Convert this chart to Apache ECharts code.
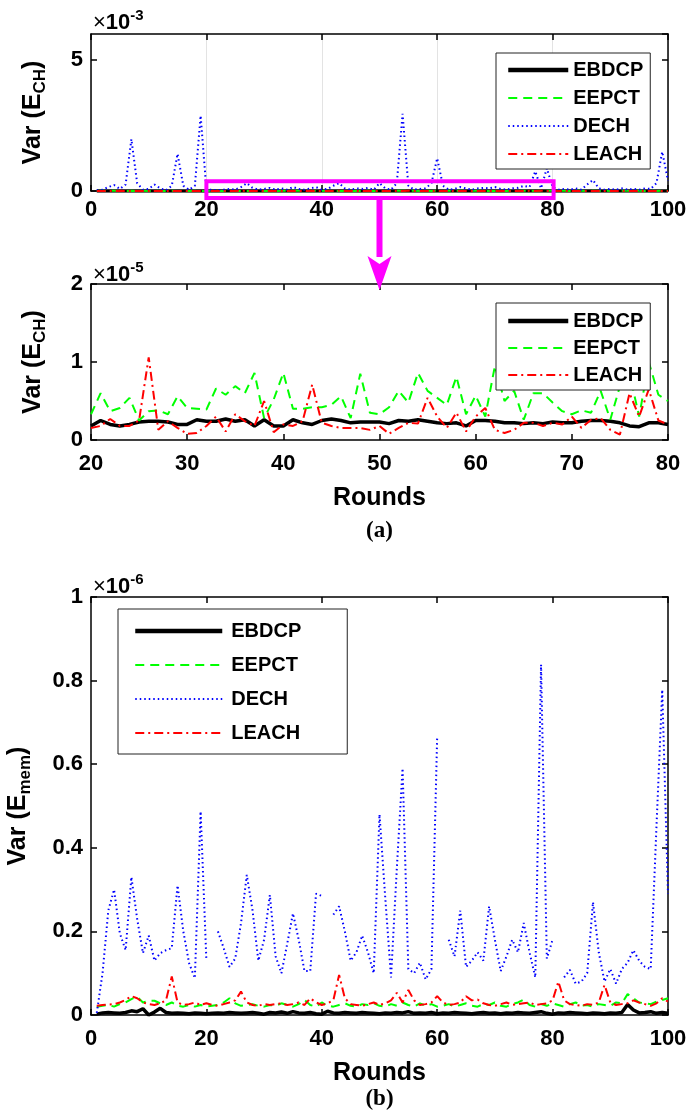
<!DOCTYPE html>
<html><head><meta charset="utf-8">
<script src="https://cdn.jsdelivr.net/npm/echarts@6/dist/echarts.min.js"></script>
<style>html,body{margin:0;padding:0;background:#fff}#c{width:688px;height:1114px}</style>
</head><body><div id="c"></div>
<script>
// ---------------- DATA ----------------
const rounds = [1,2,3,4,5,6,7,8,9,10,11,12,13,14,15,16,17,18,19,20,
21,22,23,24,25,26,27,28,29,30,31,32,33,34,35,36,37,38,39,40,
41,42,43,44,45,46,47,48,49,50,51,52,53,54,55,56,57,58,59,60,
61,62,63,64,65,66,67,68,69,70,71,72,73,74,75,76,77,78,79,80,
81,82,83,84,85,86,87,88,89,90,91,92,93,94,95,96,97,98,99,100];

// Var(E_CH), units of 1e-5
const ebdcpCH = [0.2,0.22,0.2,0.24,0.21,0.2,0.23,0.25,0.2,0.19,0.22,0.24,0.21,0.2,0.23,0.22,0.2,0.21,0.24,
0.18,0.25,0.2,0.18,0.2,0.23,0.24,0.24,0.23,0.2,0.2,0.26,0.24,0.24,0.27,0.24,0.26,0.18,0.26,0.18,0.18,0.26,0.22,0.2,0.25,0.27,0.25,0.22,0.23,0.23,0.23,
0.21,0.25,0.24,0.26,0.24,0.22,0.21,0.22,0.18,0.25,0.25,0.24,0.22,0.22,0.21,0.22,0.21,0.23,0.22,0.22,0.24,0.25,0.25,0.24,0.22,0.18,0.17,0.22,0.22,0.2,
0.21,0.23,0.2,0.22,0.24,0.21,0.2,0.23,0.22,0.2,0.21,0.24,0.23,0.2,0.22,0.21,0.23,0.2,0.22,0.21];
const eepctCH = [0.4,0.55,0.3,0.62,0.45,0.35,0.7,0.4,0.5,0.3,0.6,0.45,0.38,0.8,0.35,0.5,0.42,0.65,0.3,
0.33,0.6,0.37,0.41,0.54,0.25,0.37,0.38,0.33,0.56,0.41,0.40,0.39,0.66,0.58,0.69,0.6,0.86,0.28,0.52,0.86,0.40,0.40,0.42,0.42,0.45,0.56,0.28,0.85,0.35,0.33,
0.42,0.63,0.48,0.86,0.63,0.54,0.45,0.81,0.33,0.57,0.30,0.95,0.5,0.63,0.26,0.6,0.6,0.48,0.37,0.33,0.38,0.35,0.63,0.26,0.69,0.85,0.3,1.0,0.58,0.5,
0.45,0.6,0.35,0.5,0.7,0.4,0.55,0.3,0.62,0.45,0.38,0.75,0.5,0.35,0.6,0.42,0.55,0.3,0.65,0.45];
const leachCH = [0.2,0.35,0.15,0.25,0.5,0.18,0.22,0.3,0.12,0.2,0.45,0.15,0.25,0.2,0.35,0.12,0.22,0.28,0.15,
0.155,0.18,0.27,0.18,0.18,0.25,1.06,0.13,0.24,0.155,0.08,0.09,0.18,0.30,0.11,0.33,0.24,0.18,0.5,0.10,0.2,0.18,0.24,0.71,0.22,0.18,0.155,0.155,0.155,0.13,0.18,
0.08,0.155,0.22,0.21,0.54,0.3,0.155,0.35,0.11,0.3,0.41,0.13,0.09,0.13,0.22,0.22,0.18,0.22,0.2,0.3,0.155,0.26,0.28,0.13,0.07,0.6,0.3,0.65,0.25,0.2,
0.25,0.15,0.3,0.2,0.18,0.4,0.15,0.22,0.3,0.12,0.2,0.25,0.18,0.35,0.15,0.22,0.2,0.3,0.18,0.25];
// Var(E_CH) of DECH, units of 1e-3
const dechCH = [0.02,0.05,0.15,0.23,0.08,0.25,1.98,0.3,0.05,0.08,
0.25,0.1,0.03,0.2,1.42,0.2,0.05,0.2,2.88,0.05,
0.05,0.03,0.05,0.08,0.05,0.15,0.3,0.12,0.05,0.08,
0.12,0.05,0.1,0.05,0.15,0.08,0.05,0.1,0.15,0.05,
0.08,0.2,0.3,0.1,0.05,0.1,0.08,0.12,0.05,0.3,
0.1,0.05,0.3,2.95,0.2,0.05,0.08,0.1,0.3,1.25,
0.2,0.05,0.08,0.15,0.1,0.05,0.1,0.12,0.1,0.15,
0.08,0.05,0.1,0.12,0.2,0.15,0.75,0.1,0.87,0.15,
0.05,0.08,0.05,0.1,0.05,0.25,0.42,0.1,0.05,0.08,
0.05,0.1,0.05,0.08,0.05,0.1,0.08,0.3,1.5,0.4];

// Var(E_mem), units of 1e-6
const ebdcpMem = [0.002,0.005,0.006,0.005,0.004,0.006,0.01,0.008,0.015,0.0,0.007,0.016,0.006,0.004,0.005,0.004,0.003,0.005,0.004,0.003,
0.004,0.005,0.004,0.006,0.005,0.004,0.005,0.006,0.004,0.002,0.006,0.005,0.007,0.004,0.008,0.005,0.004,0.006,0.003,0.002,
0.009,0.005,0.004,0.006,0.005,0.004,0.006,0.005,0.004,0.003,0.005,0.004,0.006,0.005,0.008,0.004,0.005,0.004,0.006,0.003,
0.005,0.004,0.006,0.005,0.004,0.003,0.005,0.006,0.004,0.005,0.003,0.005,0.004,0.006,0.005,0.004,0.006,0.008,0.004,0.002,
0.005,0.004,0.006,0.005,0.004,0.003,0.005,0.004,0.003,0.005,0.004,0.006,0.025,0.012,0.005,0.006,0.008,0.004,0.006,0.004];
const eepctMem = [0.02,0.022,0.024,0.02,0.026,0.03,0.038,0.044,0.03,0.034,0.034,0.028,0.024,0.03,0.022,0.02,0.024,0.02,0.024,0.02,
0.022,0.024,0.03,0.04,0.028,0.022,0.024,0.026,0.022,0.02,0.024,0.022,0.028,0.024,0.02,0.026,0.036,0.024,0.02,0.03,
0.022,0.02,0.024,0.028,0.022,0.02,0.026,0.024,0.028,0.022,0.02,0.026,0.022,0.03,0.024,0.02,0.028,0.022,0.026,0.02,
0.022,0.026,0.02,0.024,0.028,0.022,0.02,0.026,0.024,0.03,0.022,0.02,0.026,0.03,0.037,0.024,0.02,0.026,0.022,0.028,
0.024,0.02,0.026,0.03,0.022,0.024,0.02,0.026,0.024,0.022,0.03,0.028,0.05,0.04,0.03,0.028,0.026,0.032,0.036,0.04];
const dechMem = [0.005,0.10,0.25,0.30,0.195,0.155,0.33,0.23,0.148,0.19,0.13,0.148,0.155,0.16,0.31,0.2,0.124,0.088,0.487,0.13,
null,0.2,0.16,0.115,0.135,0.22,0.335,0.25,0.13,0.18,0.287,0.14,0.10,0.17,0.243,0.18,0.105,0.105,0.29,0.285,
null,0.24,0.26,0.2,0.13,0.15,0.19,0.15,0.1,0.48,0.28,0.09,0.35,0.59,0.11,0.10,0.125,0.085,0.11,0.668,
null,0.18,0.14,0.25,0.115,0.13,0.15,0.13,0.26,0.18,0.105,0.14,0.18,0.15,0.22,0.15,0.09,0.838,0.135,0.18,
null,0.09,0.108,0.075,0.08,0.1,0.27,0.15,0.08,0.11,0.075,0.11,0.125,0.155,0.13,0.115,0.11,0.45,0.778,0.29];
const leachMem = [0.022,0.024,0.025,0.026,0.03,0.036,0.045,0.04,0.03,0.026,0.024,0.028,0.035,0.092,0.03,0.024,0.026,0.03,0.024,0.028,
0.024,0.022,0.026,0.03,0.035,0.056,0.03,0.024,0.022,0.026,0.024,0.026,0.028,0.024,0.026,0.03,0.024,0.04,0.03,0.024,
0.028,0.035,0.096,0.04,0.026,0.024,0.022,0.026,0.03,0.024,0.028,0.035,0.053,0.03,0.06,0.035,0.024,0.026,0.03,0.045,
0.03,0.024,0.026,0.03,0.045,0.035,0.037,0.028,0.024,0.022,0.026,0.03,0.024,0.026,0.028,0.03,0.024,0.026,0.028,0.035,
0.08,0.035,0.026,0.024,0.022,0.026,0.024,0.03,0.072,0.03,0.024,0.026,0.028,0.035,0.03,0.026,0.022,0.028,0.04,0.032];

const names = ['EBDCP','EEPCT','DECH','LEACH'];
const namesZoom = ['EBDCP','EEPCT','LEACH'];

// ---------------- STYLE ----------------
const FF = '"Liberation Sans", Arial, Helvetica, sans-serif';
const LS = {
  EBDCP: {color:'#000000', width:3.5, type:'solid'},
  EEPCT: {color:'#00ff00', width:2, type:[9,6]},
  DECH:  {color:'#0000ff', width:2, type:[1.5,3]},
  LEACH: {color:'#ff0000', width:2, type:[9,4,2,4]}
};

function pairs(vals, scale, lo, hi) {
  const out = [];
  for (let i = 0; i < rounds.length; i++) {
    const r = rounds[i];
    if (r < lo || r > hi) continue;
    const v = vals[i];
    out.push([r, v === null ? null : v * scale]);
  }
  return out;
}
function ser(name, axis, data) {
  return {
    name, type:'line', xAxisIndex:axis, yAxisIndex:axis, data,
    showSymbol:false, symbol:'none', silent:true, animation:false,
    lineStyle:{color:LS[name].color, width:LS[name].width, type:LS[name].type, cap:'butt'},
    itemStyle:{color:LS[name].color}
  };
}

const tickLbl = {color:'#000', fontSize:22, fontWeight:'bold', fontFamily:FF};
const nameRich = () => ({
  m:{fontSize:25, fontWeight:'bold', fontFamily:FF, color:'#000', lineHeight:32, verticalAlign:'middle'},
  s:{fontSize:17, fontWeight:'bold', fontFamily:FF, color:'#000', lineHeight:20, verticalAlign:'bottom'}
});
function xPair(g, min, max, interval, margin, name, split) {
  const base = {type:'value', gridIndex:g, min, max, interval,
    axisLine:{show:true, onZero:false, lineStyle:{color:'#000', width:1.5}},
    axisTick:{show:true, inside:true, length:6, lineStyle:{color:'#000', width:1.5}}};
  return [
    Object.assign({}, base, {position:'bottom',
      axisLabel:Object.assign({margin}, tickLbl),
      splitLine:{show:!!split, lineStyle:{color:'#e3e3e3', width:1}},
      name: name || '', nameLocation:'middle', nameGap:46,
      nameTextStyle:{fontSize:25, fontWeight:'bold', fontFamily:FF, color:'#000'}}),
    Object.assign({}, base, {position:'top', axisLabel:{show:false}, splitLine:{show:false}})
  ];
}
function yPair(g, min, max, interval, nameSub, gap, fmt) {
  const base = {type:'value', gridIndex:g, min, max, interval,
    axisLine:{show:true, onZero:false, lineStyle:{color:'#000', width:1.5}},
    axisTick:{show:true, inside:true, length:6, lineStyle:{color:'#000', width:1.5}},
    splitLine:{show:false}};
  return [
    Object.assign({}, base, {position:'left',
      axisLabel:Object.assign({margin:8, showMaxLabel: g===0 ? false : true, formatter:fmt}, tickLbl),
      name:'{m|Var (E}{s|' + nameSub + '}{m|)}', nameLocation:'middle', nameGap:gap,
      nameTextStyle:{rich:nameRich()}}),
    Object.assign({}, base, {position:'right', axisLabel:{show:false}})
  ];
}

const legendBase = {orient:'vertical', selectedMode:false, borderColor:'#222', borderWidth:1,
  backgroundColor:'#fff', itemHeight:14, itemStyle:{opacity:0},
  textStyle:{fontSize:20, fontWeight:'bold', fontFamily:FF, color:'#000', lineHeight:20}};
const legendItems = list => list.map(n => n === 'EBDCP' ? {name:n, lineStyle:{width:4.5}} : {name:n});

const series = [];
names.forEach(n => series.push(ser(n, 0, pairs(n==='DECH'?dechCH:(n==='EBDCP'?ebdcpCH:n==='EEPCT'?eepctCH:leachCH), n==='DECH'?1:0.01, 1, 100))));
namesZoom.forEach(n => series.push(ser(n, 2, pairs(n==='EBDCP'?ebdcpCH:n==='EEPCT'?eepctCH:leachCH, 1, 20, 80))));
names.forEach(n => series.push(ser(n, 4, pairs(n==='EBDCP'?ebdcpMem:n==='EEPCT'?eepctMem:n==='DECH'?dechMem:leachMem, 1, 1, 100))));

const fmt1 = v => String(Math.round(v*10)/10);

const option = {
  animation:false,
  backgroundColor:'#fff',
  grid:[
    {left:91, top:34, width:577, height:157, outerBoundsMode:'none', containLabel:false},
    {left:91, top:284, width:577, height:156, outerBoundsMode:'none', containLabel:false},
    {left:91, top:597, width:577, height:418, outerBoundsMode:'none', containLabel:false}
  ],
  xAxis:[].concat(
    xPair(0, 0, 100, 20, 8, '', true),
    xPair(1, 20, 80, 10, 13, 'Rounds', false),
    xPair(2, 0, 100, 20, 13, 'Rounds', false)
  ),
  yAxis:[].concat(
    yPair(0, 0, 6, 5, 'CH', 42, fmt1),
    yPair(1, 0, 2, 1, 'CH', 42, fmt1),
    yPair(2, 0, 1, 0.2, 'mem', 57, fmt1)
  ),
  legend:[
    Object.assign({}, legendBase, {data:legendItems(names), left:496, top:53, itemWidth:60, itemGap:8, padding:[7,7,5,10]}),
    Object.assign({}, legendBase, {data:legendItems(namesZoom), left:496, top:303, itemWidth:60, itemGap:7, padding:[8,7,5,10]}),
    Object.assign({}, legendBase, {data:legendItems(names), left:118, top:609, itemWidth:87, itemGap:14, padding:[12,46,11,15],
      textStyle:Object.assign({}, legendBase.textStyle, {padding:[0,0,0,4]})})
  ],
  series
};

const chart = echarts.init(document.getElementById('c'), null, {renderer:'canvas'});
chart.setOption(option);

// annotations (positions derived from the axes)
const pA = chart.convertToPixel({gridIndex:0}, [20, 0]);
const pB = chart.convertToPixel({gridIndex:0}, [80, 0]);
const pC = chart.convertToPixel({gridIndex:0}, [50, 0]);
const cx = pC[0];
const mag = '#ff00ff';
const expRich = {
  t:{fontSize:22, fontWeight:'normal', fontFamily:FF, fill:'#000', lineHeight:26, verticalAlign:'bottom'},
  n:{fontSize:22, fontWeight:'bold', fontFamily:FF, fill:'#000', lineHeight:26, verticalAlign:'bottom'},
  s:{fontSize:15, fontWeight:'bold', fontFamily:FF, fill:'#000', lineHeight:16, verticalAlign:'top'}
};
function expText(top, e) {
  return {type:'text', left:93, top, z:100, style:{text:'{t|×}{n|10}{s|' + e + '}', rich:expRich}};
}
chart.setOption({
  graphic:[
    expText(8, '-3'), expText(260, '-5'), expText(572, '-6'),
    {type:'rect', z:100, shape:{x:pA[0], y:pA[1]-9.7, width:pB[0]-pA[0]+1, height:16.7},
      style:{fill:'none', stroke:mag, lineWidth:4}},
    {type:'rect', z:100, shape:{x:cx-3, y:pA[1]+9, width:6, height:57}, style:{fill:mag}},
    {type:'polygon', z:100, shape:{points:[[cx,290],[cx-12,256],[cx,264],[cx+12,256]]}, style:{fill:mag}},
    {type:'text', z:100, x:cx, y:531, style:{text:'(a)', fontSize:23, fontWeight:'bold',
      fontFamily:'"Liberation Serif", "Times New Roman", serif', fill:'#000', align:'center', verticalAlign:'middle'}},
    {type:'text', z:100, x:cx, y:1099, style:{text:'(b)', fontSize:23, fontWeight:'bold',
      fontFamily:'"Liberation Serif", "Times New Roman", serif', fill:'#000', align:'center', verticalAlign:'middle'}}
  ]
});
</script></body></html>
